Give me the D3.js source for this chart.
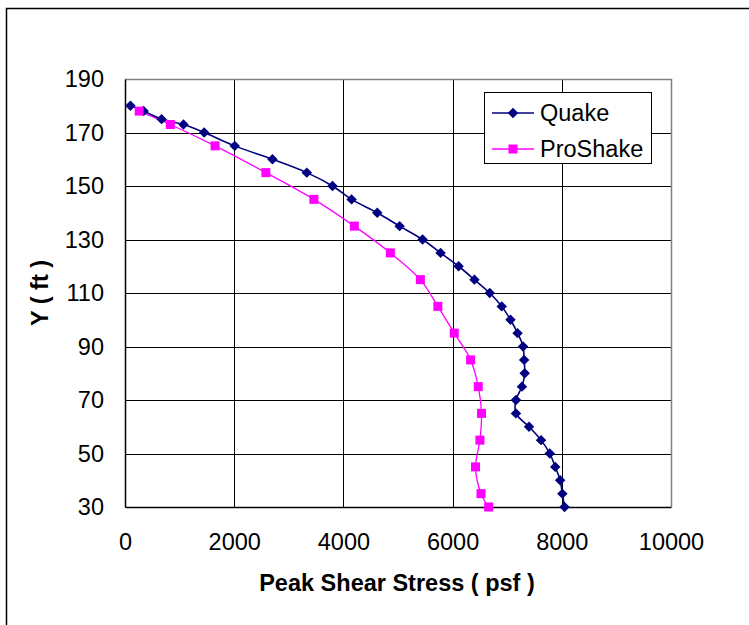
<!DOCTYPE html>
<html><head><meta charset="utf-8">
<script src="https://cdn.jsdelivr.net/npm/d3@7"></script>
<style>body{margin:0;background:#fff}svg{display:block}text{font-family:"Liberation Sans",Arial,sans-serif}</style>
</head><body>
<svg id="c" width="749" height="625"></svg>
<script>
const quakeY = [180,178,175,173,170,165,160,155,150,145,140,135,130,125,120,115,110,105,100,95,90,85,80,75,70,65,60,55,50,45,40,35,30];
const quakeX = [100,340,670,1070,1450,2010,2700,3330,3800,4150,4620,5030,5450,5780,6110,6400,6680,6900,7060,7190,7290,7310,7320,7270,7160,7160,7400,7620,7780,7880,7970,8010,8050];
const proY = [178,173,165,155,145,135,125,115,105,95,85,75,65,55,45,35,30];
const proX = [260,830,1650,2580,3460,4200,4860,5410,5730,6030,6330,6470,6530,6500,6420,6520,6660];
const xTicks = [0,2000,4000,6000,8000,10000];
const yTicks = [30,50,70,90,110,130,150,170,190];
const seriesNames = ["Quake","ProShake"];

const svg = d3.select("#c");
const L=125, R=671, T=79, B=507;
const x = d3.scaleLinear().domain([0,10000]).range([L,R]);
const y = d3.scaleLinear().domain([30,190]).range([B,T]);

// outer frame
svg.append("rect").attr("x",6.5).attr("y",8.5).attr("width",800).attr("height",700)
  .attr("fill","none").attr("stroke","#000").attr("stroke-width",1.5);

// grid
const g = svg.append("g");
g.selectAll(".vg").data(xTicks.slice(1,-1)).join("line")
  .attr("x1",d=>Math.round(x(d))+0.5).attr("x2",d=>Math.round(x(d))+0.5).attr("y1",T).attr("y2",B)
  .attr("stroke","#000").attr("stroke-width",1);
g.selectAll(".hg").data(yTicks.slice(1,-1)).join("line")
  .attr("y1",d=>Math.round(y(d))+0.5).attr("y2",d=>Math.round(y(d))+0.5).attr("x1",L).attr("x2",R)
  .attr("stroke","#000").attr("stroke-width",1);
// plot border top/right gray
svg.append("path").attr("d",`M${L},${T+0.5}H${R+0.5}V${B}`).attr("fill","none").attr("stroke","#808080").attr("stroke-width",1.5);

// axes
const xAxis = svg.append("g").attr("transform",`translate(0,${B})`)
  .call(d3.axisBottom(x).tickValues(xTicks).tickSize(0).tickPadding(26).tickFormat(d3.format("d")));
const yAxis = svg.append("g").attr("transform",`translate(${L},0)`)
  .call(d3.axisLeft(y).tickValues(yTicks).tickSize(0).tickPadding(21));
[xAxis,yAxis].forEach(a=>{a.select(".domain").attr("stroke","#000").attr("stroke-width",1.5);
  a.selectAll("text").attr("font-size",23.5).attr("fill","#000").attr("font-family",'"Liberation Sans",Arial,sans-serif');});

// titles
svg.append("text").attr("x",397).attr("y",591).attr("text-anchor","middle")
  .attr("font-size",23.5).attr("font-weight","bold").text("Peak Shear Stress ( psf )");
svg.append("text").attr("transform",`translate(48,${(T+B)/2}) rotate(-90)`).attr("text-anchor","middle")
  .attr("font-size",23.5).attr("font-weight","bold").text("Y ( ft )");

// series
const line = d3.line().x(d=>x(d[0])).y(d=>y(d[1])).curve(d3.curveCatmullRom);
const quake = quakeX.map((v,i)=>[v,quakeY[i]]);
const pro = proX.map((v,i)=>[v,proY[i]]);
svg.append("path").datum(pro).attr("d",line).attr("fill","none").attr("stroke","#FF00FF").attr("stroke-width",1.3);
svg.append("path").datum(quake).attr("d",line).attr("fill","none").attr("stroke","#000080").attr("stroke-width",1.6);
const diamond = d3.symbol().type(d3.symbolDiamond2).size(70);
svg.selectAll(".qm").data(quake).join("path").attr("d",diamond)
  .attr("transform",d=>`translate(${x(d[0])},${y(d[1])})`).attr("fill","#000080");
svg.selectAll(".pm").data(pro).join("rect")
  .attr("x",d=>x(d[0])-4.5).attr("y",d=>y(d[1])-4.5).attr("width",9).attr("height",9).attr("fill","#FF00FF");

// legend
const lg = svg.append("g");
lg.append("rect").attr("x",484.5).attr("y",92.5).attr("width",167).attr("height",71).attr("fill","#fff").attr("stroke","#000").attr("stroke-width",1);
const items=[{n:seriesNames[0],c:"#000080",ty:113},{n:seriesNames[1],c:"#FF00FF",ty:149}];
items.forEach((it,i)=>{
  lg.append("line").attr("x1",492).attr("x2",534).attr("y1",it.ty).attr("y2",it.ty).attr("stroke",it.c).attr("stroke-width",1.5);
  if(i===0) lg.append("path").attr("d",diamond).attr("transform",`translate(513,${it.ty})`).attr("fill",it.c);
  else lg.append("rect").attr("x",508.5).attr("y",it.ty-4.5).attr("width",9).attr("height",9).attr("fill",it.c);
  lg.append("text").attr("x",540).attr("y",it.ty+8).attr("font-size",23.5).text(it.n);
});
</script>
</body></html>
